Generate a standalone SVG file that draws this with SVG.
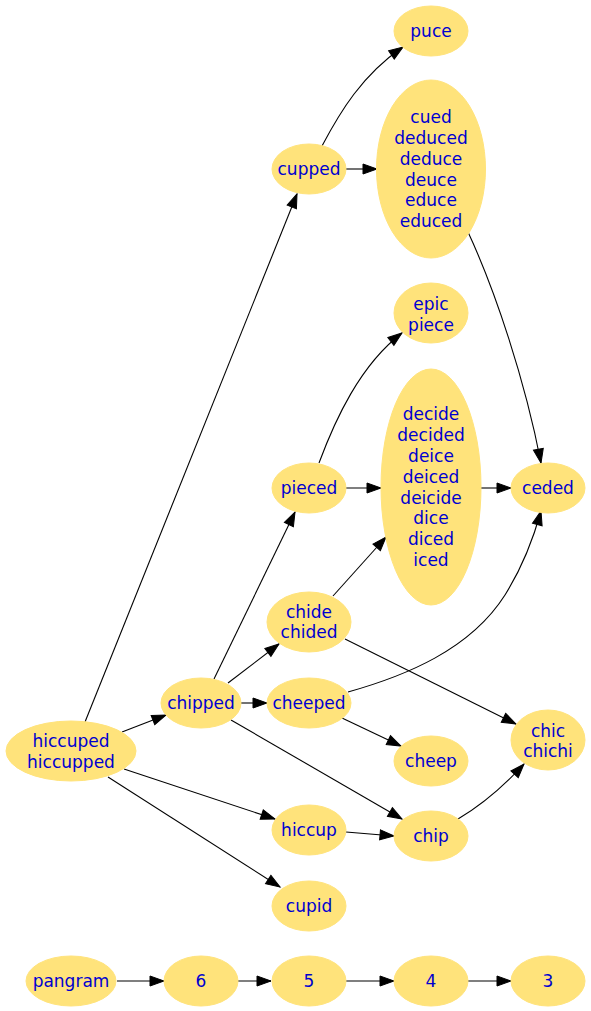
<svg xmlns="http://www.w3.org/2000/svg" width="591" height="1011" viewBox="0 0 591 1011">
<style>
.n ellipse{fill:#ffe37b;stroke:#ffe37b;stroke-width:1}
.n text{font-family:"DejaVu Sans",sans-serif;font-size:17px;fill:#0000d0;text-anchor:middle}
.e path{fill:none;stroke:#000;stroke-width:1.1}
</style>
<defs>
<marker id="a" markerUnits="userSpaceOnUse" markerWidth="15" markerHeight="11" refX="14" refY="5" orient="auto" viewBox="0 0 15 11" overflow="visible">
<path d="M0,0 L14,5 L0,10 z" fill="#000" stroke="#000" stroke-width="1"/>
</marker>
</defs>
<rect width="591" height="1011" fill="#fff"/>
<g id="edges" class="e">
<path marker-end="url(#a)" d="M85,722 L297,194"/>
<path marker-end="url(#a)" d="M322,146 C340,112 362,75 403,47"/>
<path marker-end="url(#a)" d="M346,169 L377,169"/>
<path marker-end="url(#a)" d="M468,232 C495,290 525,380 541,463"/>
<path marker-end="url(#a)" d="M214,679 L295,512"/>
<path marker-end="url(#a)" d="M319,463 C335,420 360,365 402,333"/>
<path marker-end="url(#a)" d="M346,488 L381,488"/>
<path marker-end="url(#a)" d="M481,488 L511,488"/>
<path marker-end="url(#a)" d="M333,596 L386,537"/>
<path marker-end="url(#a)" d="M348,692 C405,676 470,650 505,595 C522,568 533,540 541,511"/>
<path marker-end="url(#a)" d="M228,683 L279,644"/>
<path marker-end="url(#a)" d="M241,703 L267,703"/>
<path marker-end="url(#a)" d="M231,720 L402,819"/>
<path marker-end="url(#a)" d="M345,639 L516,724"/>
<path marker-end="url(#a)" d="M342,718 L401,746"/>
<path marker-end="url(#a)" d="M458,819 C480,806 503,787 524,764"/>
<path marker-end="url(#a)" d="M122,732 L166,715"/>
<path marker-end="url(#a)" d="M124,769 L275,819"/>
<path marker-end="url(#a)" d="M108,777 L280,887"/>
<path marker-end="url(#a)" d="M346,832 L394,836"/>
<path marker-end="url(#a)" d="M117,981 L164,981"/>
<path marker-end="url(#a)" d="M238,981 L271,981"/>
<path marker-end="url(#a)" d="M346,981 L394,981"/>
<path marker-end="url(#a)" d="M468,981 L511,981"/>
</g>
<g id="puce" class="n"><ellipse cx="431" cy="31" rx="37" ry="25"/><text x="431" y="37">puce</text></g>
<g id="cupped" class="n"><ellipse cx="309" cy="169" rx="37" ry="25"/><text x="309" y="175">cupped</text></g>
<g id="cued" class="n"><ellipse cx="431" cy="169" rx="54.5" ry="89"/>
<text x="431" y="123">cued</text><text x="431" y="144">deduced</text><text x="431" y="165">deduce</text><text x="431" y="186">deuce</text><text x="431" y="206">educe</text><text x="431" y="227">educed</text></g>
<g id="epic" class="n"><ellipse cx="431" cy="313" rx="37" ry="30"/><text x="431" y="310">epic</text><text x="431" y="331">piece</text></g>
<g id="decide" class="n"><ellipse cx="431" cy="487" rx="50" ry="118"/>
<text x="431" y="420">decide</text><text x="431" y="441">decided</text><text x="431" y="462">deice</text><text x="431" y="483">deiced</text><text x="431" y="504">deicide</text><text x="431" y="524">dice</text><text x="431" y="545">diced</text><text x="431" y="566">iced</text></g>
<g id="pieced" class="n"><ellipse cx="309" cy="488" rx="37" ry="25"/><text x="309" y="494">pieced</text></g>
<g id="ceded" class="n"><ellipse cx="548" cy="488" rx="37" ry="25"/><text x="548" y="494">ceded</text></g>
<g id="chide" class="n"><ellipse cx="309" cy="622" rx="42" ry="30"/><text x="309" y="618">chide</text><text x="309" y="638">chided</text></g>
<g id="cheeped" class="n"><ellipse cx="309" cy="703" rx="42" ry="25"/><text x="309" y="709">cheeped</text></g>
<g id="chipped" class="n"><ellipse cx="201" cy="703" rx="40" ry="25"/><text x="201" y="709">chipped</text></g>
<g id="hiccuped" class="n"><ellipse cx="71" cy="751" rx="65" ry="30"/><text x="71" y="747">hiccuped</text><text x="71" y="768">hiccupped</text></g>
<g id="chic" class="n"><ellipse cx="548" cy="740" rx="37" ry="30"/><text x="548" y="737">chic</text><text x="548" y="757">chichi</text></g>
<g id="cheep" class="n"><ellipse cx="431" cy="761" rx="37" ry="25"/><text x="431" y="767">cheep</text></g>
<g id="hiccup" class="n"><ellipse cx="309" cy="830" rx="37" ry="25"/><text x="309" y="836">hiccup</text></g>
<g id="chip" class="n"><ellipse cx="431" cy="836" rx="37" ry="25"/><text x="431" y="842">chip</text></g>
<g id="cupid" class="n"><ellipse cx="309" cy="906" rx="37" ry="25"/><text x="309" y="912">cupid</text></g>
<g id="pangram" class="n"><ellipse cx="71" cy="981" rx="45" ry="25"/><text x="71" y="987">pangram</text></g>
<g id="n6" class="n"><ellipse cx="201" cy="981" rx="37" ry="25"/><text x="201" y="987">6</text></g>
<g id="n5" class="n"><ellipse cx="309" cy="981" rx="37" ry="25"/><text x="309" y="987">5</text></g>
<g id="n4" class="n"><ellipse cx="431" cy="981" rx="37" ry="25"/><text x="431" y="987">4</text></g>
<g id="n3" class="n"><ellipse cx="548" cy="981" rx="37" ry="25"/><text x="548" y="987">3</text></g>
</svg>
